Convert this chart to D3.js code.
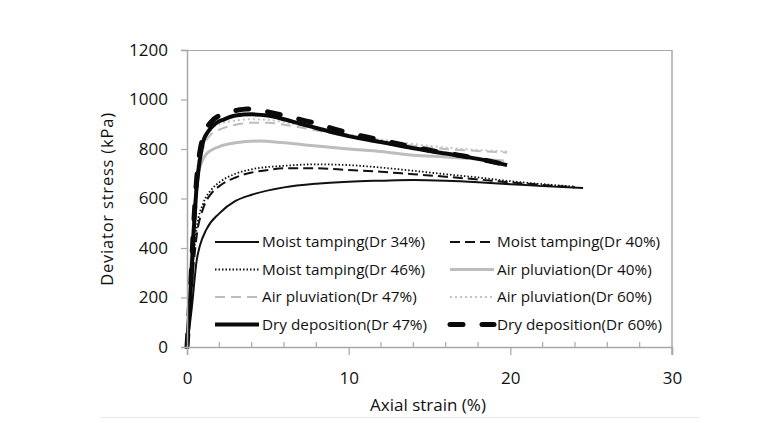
<!DOCTYPE html>
<html>
<head>
<meta charset="utf-8">
<script src="https://cdn.jsdelivr.net/npm/d3@7"></script>
<style>
html,body{margin:0;padding:0;background:#fff;}
svg{display:block;}
text{font-family:"Open Sans","Noto Sans",sans-serif;fill:#111;}
</style>
</head>
<body>
<svg id="chart" width="769" height="423"></svg>
<script>
// ---------- data ----------
const xTicks = [0, 10, 20, 30];
const yTicks = [0, 200, 400, 600, 800, 1000, 1200];
const xLabel = "Axial strain (%)";
const yLabel = "Deviator stress (kPa)";

const seriesNames = [
  "Moist tamping(Dr 34%)", "Moist tamping(Dr 40%)",
  "Moist tamping(Dr 46%)", "Air pluviation(Dr 40%)",
  "Air pluviation(Dr 47%)", "Air pluviation(Dr 60%)",
  "Dry deposition(Dr 47%)", "Dry deposition(Dr 60%)"
];

const mt34Strain = [0,0.3,0.6,0.8,1.2,2,3,4,6,8,10,12,14,16,18,20,22,24.5];
const mt34Stress = [0,160,350,410,475,540,590,615,645,660,668,672,675,672,666,658,650,642];

const mt40Strain = [0,0.3,0.6,1,1.5,2,3,4,5,6,8,10,12,14,16,18,20,22,24];
const mt40Stress = [0,250,450,560,620,650,685,705,715,722,722,715,708,698,688,677,665,655,645];

const mt46Strain = [0,0.3,0.6,1,1.5,2,3,4,6,8,10,12,14,16,18,20,22,24];
const mt46Stress = [0,280,480,580,635,665,700,718,732,738,735,725,712,698,685,670,658,648];

const ap40Strain = [0,0.3,0.7,1.2,2,3,4.5,6,8,10,12,14,16,18,19.6];
const ap40Stress = [0,400,700,780,810,825,832,825,812,800,790,775,768,760,752];

const ap47Strain = [0,0.3,0.6,1,1.5,2,3,4,5,6,8,10,12,14,16,18,19.8];
const ap47Stress = [0,350,650,800,860,878,898,906,906,898,875,850,830,813,800,792,786];

const ap60Strain = [0,0.3,0.6,1,1.5,2,3,4,5,6,8,10,12,14,16,18,19.8];
const ap60Stress = [0,380,700,830,880,900,915,920,918,908,882,858,838,820,806,796,790];

const dd47Strain = [0,0.2,0.4,0.6,0.8,1,1.3,1.7,2.3,3,4,5,6,7,8,10,12,14,16,18,19.8];
const dd47Stress = [0,200,450,650,760,830,870,900,920,935,940,935,920,902,885,852,828,803,782,760,735];

const dd60Strain = [0,0.2,0.4,0.6,0.8,1,1.5,2,3,3.7,5,6,7.7,9.7,11.7,13.7,15.6,17.6,19.5];
const dd60Stress = [0,220,480,680,790,850,910,935,955,962,950,935,908,870,840,812,788,766,740];

const seriesStrain = [mt34Strain, mt40Strain, mt46Strain, ap40Strain, ap47Strain, ap60Strain, dd47Strain, dd60Strain];
const seriesStress = [mt34Stress, mt40Stress, mt46Stress, ap40Stress, ap47Stress, ap60Stress, dd47Stress, dd60Stress];

// ---------- styles ----------
const styles = [
  {color:"#111", width:2, dash:null, cap:"butt"},
  {color:"#111", width:2, dash:"10,5", cap:"butt"},
  {color:"#111", width:1.8, dash:"1.5,2", cap:"butt"},
  {color:"#bdbdbd", width:3, dash:null, cap:"butt"},
  {color:"#bdbdbd", width:2, dash:"10,6", cap:"butt"},
  {color:"#c4c4c4", width:2, dash:"2,3", cap:"butt"},
  {color:"#0a0a0a", width:4, dash:null, cap:"butt"},
  {color:"#0a0a0a", width:5, dash:"13,19", cap:"round"}
];
const drawOrder = [3,4,5,0,1,2,6,7];

const svg = d3.select("#chart");
const x = d3.scaleLinear().domain([0,30]).range([187,672]);
const y = d3.scaleLinear().domain([0,1200]).range([347,50]);

svg.append("line").attr("x1",100).attr("x2",700).attr("y1",417.5).attr("y2",417.5)
  .attr("stroke","#e8e8e8").attr("stroke-width",1);

svg.append("line").attr("x1",x(0)).attr("x2",x(30)).attr("y1",y(1200)+0.5).attr("y2",y(1200)+0.5)
  .attr("stroke","#a8a8a8").attr("stroke-width",1.2);
svg.append("line").attr("x1",x(30)).attr("x2",x(30)).attr("y1",y(1200)).attr("y2",y(0)+8)
  .attr("stroke","#a8a8a8").attr("stroke-width",1.5);

svg.append("clipPath").attr("id","clip").append("rect")
  .attr("x",x(0)-3).attr("y",y(1200)).attr("width",x(30)-x(0)+3).attr("height",y(0)-y(1200)+2);

const line = d3.line().x(d=>x(d[0])).y(d=>y(d[1])).curve(d3.curveMonotoneX);
const g = svg.append("g").attr("clip-path","url(#clip)");
drawOrder.forEach(i=>{
  const pts = seriesStrain[i].map((s,k)=>[s, seriesStress[i][k]]);
  const st = styles[i];
  g.append("path").attr("d", line(pts)).attr("fill","none")
    .attr("stroke", st.color).attr("stroke-width", st.width)
    .attr("stroke-dasharray", st.dash).attr("stroke-linecap", st.cap)
    .attr("stroke-linejoin","round");
});

const yAxis = d3.axisLeft(y).tickValues(yTicks).tickSize(6).tickPadding(13).tickFormat(d3.format("d"));
const yg = svg.append("g").attr("transform",`translate(${x(0)},0)`).call(yAxis);
yg.select(".domain").attr("stroke","#a8a8a8").attr("stroke-width",1.5);
yg.selectAll(".tick line").attr("stroke","#a8a8a8").attr("stroke-width",1.2);
yg.selectAll(".tick text").attr("font-size",17).attr("font-family","Open Sans").attr("fill","#0a0a0a");

const xAxis = d3.axisBottom(x).tickValues(xTicks).tickSize(8).tickPadding(17).tickFormat(d3.format("d"));
const xg = svg.append("g").attr("transform",`translate(0,${y(0)})`).call(xAxis);
xg.select(".domain").attr("stroke","#a8a8a8").attr("stroke-width",1.5);
xg.selectAll(".tick line").attr("stroke","#a8a8a8").attr("stroke-width",1.2);
xg.selectAll(".tick text").attr("font-size",17).attr("font-family","Open Sans").attr("fill","#0a0a0a");
const minor = d3.range(2,30,2).filter(v=>v%10!==0);
svg.append("g").selectAll("line").data(minor).join("line")
  .attr("x1",d=>x(d)).attr("x2",d=>x(d)).attr("y1",y(0)).attr("y2",y(0)-5)
  .attr("stroke","#a8a8a8").attr("stroke-width",1.2);

svg.append("text").attr("x",428).attr("y",411).attr("text-anchor","middle")
  .attr("font-size",17).text(xLabel);
svg.append("text").attr("transform","translate(113,199) rotate(-90)").attr("text-anchor","middle")
  .attr("font-size",16.5).attr("letter-spacing",0.8).text(yLabel);

const legend = svg.append("g");
legend.append("rect").attr("x",208).attr("y",229).attr("width",460).attr("height",110).attr("fill","#fff");
const colX = [215, 450];
const rowY = [242, 269.5, 297, 324.5];
seriesNames.forEach((name,i)=>{
  const cx = colX[i%2], cy = rowY[Math.floor(i/2)];
  const st = styles[i];
  legend.append("line").attr("x1",cx).attr("x2",cx+44).attr("y1",cy).attr("y2",cy)
    .attr("stroke",st.color).attr("stroke-width",st.width)
    .attr("stroke-dasharray",st.dash).attr("stroke-linecap",st.cap);
  legend.append("text").attr("x",cx+47).attr("y",cy).attr("dy","0.35em")
    .attr("font-size",15.3).text(name);
});
</script>
</body>
</html>
